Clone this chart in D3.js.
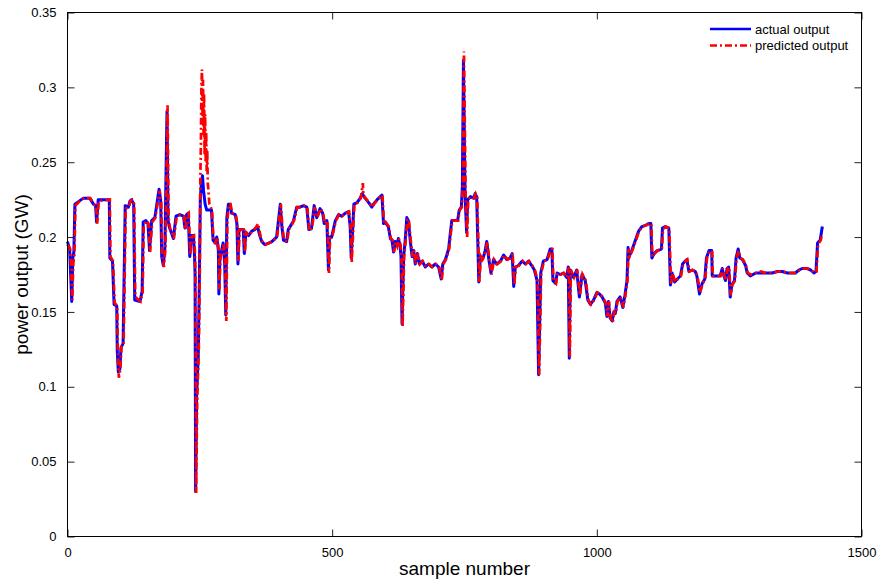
<!DOCTYPE html>
<html>
<head>
<meta charset="utf-8">
<script src="https://cdn.jsdelivr.net/npm/d3@7/dist/d3.min.js"></script>
<style>
  html, body { margin: 0; padding: 0; background: #fff; }
  svg { display: block; font-family: "Liberation Sans", Arial, Helvetica, sans-serif; }
</style>
</head>
<body>
<svg id="chart" width="878" height="582"></svg>
<script>
// Power output per sample: [sample number, GW]
const actualOutput = [
  [0,0.197],[4,0.192],[6,0.175],[8,0.157],[10,0.186],[12,0.190],[14,0.222],[22,0.224],[30,0.226],[42,0.226],[49,0.222],[53,0.221],[55,0.210],[58,0.225],[79,0.225],[80,0.186],[85,0.184],[88,0.155],[93,0.154],[94,0.124],[96,0.110],[99,0.112],[101,0.126],[105,0.129],[109,0.221],[115,0.220],[118,0.224],[121,0.225],[125,0.222],[127,0.158],[137,0.157],[141,0.164],[143,0.210],[148,0.211],[152,0.209],[155,0.191],[159,0.211],[165,0.213],[170,0.225],[173,0.232],[176,0.225],[178,0.187],[181,0.181],[184,0.193],[186,0.240],[188,0.284],[190,0.211],[193,0.206],[197,0.202],[200,0.199],[205,0.214],[212,0.215],[219,0.214],[222,0.206],[225,0.215],[228,0.216],[231,0.187],[234,0.201],[238,0.201],[240,0.187],[241,0.175],[242,0.030],[244,0.095],[247,0.120],[249,0.169],[251,0.227],[253,0.236],[255,0.241],[257,0.231],[260,0.222],[263,0.218],[272,0.218],[275,0.198],[279,0.196],[282,0.200],[285,0.191],[286,0.162],[288,0.187],[291,0.191],[294,0.196],[297,0.182],[299,0.148],[301,0.213],[304,0.222],[307,0.222],[310,0.216],[317,0.215],[320,0.209],[322,0.182],[324,0.205],[332,0.205],[334,0.189],[337,0.203],[342,0.201],[348,0.204],[354,0.205],[359,0.207],[364,0.200],[367,0.197],[373,0.195],[380,0.196],[386,0.197],[395,0.200],[402,0.222],[405,0.207],[408,0.198],[414,0.197],[417,0.205],[424,0.209],[427,0.211],[433,0.220],[439,0.220],[446,0.221],[452,0.220],[456,0.205],[461,0.206],[466,0.221],[471,0.213],[477,0.219],[482,0.216],[485,0.209],[490,0.211],[493,0.178],[495,0.200],[499,0.200],[506,0.211],[512,0.215],[518,0.214],[525,0.216],[531,0.217],[534,0.207],[536,0.186],[539,0.207],[541,0.222],[547,0.223],[553,0.226],[557,0.229],[562,0.226],[569,0.223],[575,0.220],[578,0.222],[585,0.225],[594,0.228],[597,0.209],[600,0.210],[606,0.207],[610,0.199],[613,0.198],[616,0.190],[619,0.197],[622,0.194],[625,0.199],[628,0.195],[630,0.187],[632,0.142],[635,0.187],[638,0.198],[641,0.213],[644,0.211],[648,0.196],[651,0.187],[654,0.191],[657,0.182],[661,0.189],[665,0.182],[670,0.184],[676,0.180],[682,0.182],[688,0.180],[695,0.182],[701,0.180],[706,0.172],[709,0.182],[714,0.185],[720,0.192],[723,0.202],[726,0.211],[737,0.211],[740,0.218],[744,0.220],[746,0.234],[748,0.318],[751,0.229],[754,0.203],[756,0.225],[761,0.227],[767,0.226],[770,0.229],[773,0.227],[777,0.170],[780,0.187],[783,0.185],[786,0.187],[789,0.191],[792,0.197],[796,0.185],[800,0.176],[805,0.185],[811,0.182],[818,0.184],[824,0.188],[830,0.185],[836,0.186],[840,0.189],[843,0.167],[846,0.180],[852,0.181],[859,0.184],[865,0.182],[871,0.184],[877,0.181],[882,0.178],[887,0.171],[890,0.108],[894,0.176],[899,0.184],[906,0.185],[912,0.192],[915,0.192],[917,0.171],[922,0.169],[925,0.176],[931,0.175],[937,0.176],[943,0.173],[946,0.180],[948,0.119],[950,0.178],[956,0.173],[962,0.178],[967,0.160],[972,0.175],[978,0.171],[983,0.158],[988,0.155],[994,0.158],[1000,0.163],[1005,0.162],[1010,0.160],[1016,0.156],[1019,0.147],[1022,0.157],[1025,0.146],[1029,0.144],[1032,0.150],[1035,0.149],[1038,0.157],[1044,0.160],[1049,0.153],[1053,0.161],[1057,0.171],[1059,0.193],[1061,0.187],[1066,0.191],[1073,0.198],[1079,0.204],[1085,0.207],[1093,0.208],[1098,0.209],[1102,0.209],[1104,0.186],[1108,0.189],[1114,0.191],[1122,0.192],[1124,0.206],[1129,0.207],[1136,0.206],[1139,0.168],[1142,0.176],[1147,0.170],[1152,0.172],[1158,0.174],[1162,0.182],[1167,0.184],[1170,0.185],[1174,0.177],[1180,0.178],[1186,0.177],[1189,0.174],[1194,0.162],[1199,0.169],[1204,0.172],[1207,0.186],[1212,0.191],[1217,0.191],[1218,0.174],[1227,0.174],[1233,0.174],[1237,0.179],[1240,0.174],[1243,0.171],[1246,0.179],[1249,0.180],[1252,0.160],[1255,0.168],[1260,0.171],[1263,0.186],[1267,0.192],[1270,0.186],[1275,0.185],[1281,0.181],[1284,0.176],[1290,0.174],[1300,0.176],[1309,0.176],[1318,0.176],[1331,0.176],[1341,0.177],[1350,0.177],[1360,0.176],[1375,0.176],[1382,0.178],[1388,0.179],[1397,0.179],[1404,0.178],[1410,0.176],[1414,0.177],[1417,0.196],[1422,0.198],[1426,0.207]
];

const predictedOutput = [
  [0,0.195],[5,0.192],[7,0.178],[9,0.158],[11,0.183],[13,0.188],[15,0.221],[23,0.224],[31,0.226],[43,0.226],[50,0.222],[54,0.221],[56,0.209],[59,0.224],[80,0.225],[81,0.187],[86,0.184],[89,0.156],[94,0.154],[95,0.126],[97,0.106],[100,0.112],[102,0.127],[106,0.128],[110,0.219],[116,0.220],[119,0.224],[122,0.225],[126,0.222],[128,0.160],[138,0.157],[142,0.163],[144,0.208],[149,0.211],[153,0.209],[156,0.190],[160,0.210],[166,0.213],[171,0.224],[174,0.231],[177,0.224],[179,0.188],[182,0.180],[185,0.192],[187,0.235],[189,0.288],[191,0.213],[194,0.205],[198,0.202],[201,0.199],[206,0.213],[213,0.215],[220,0.214],[223,0.205],[226,0.215],[229,0.216],[232,0.188],[235,0.200],[239,0.201],[241,0.188],[242,0.170],[243,0.029],[245,0.090],[248,0.125],[250,0.175],[251,0.240],[252,0.262],[253,0.300],[254,0.312],[255,0.280],[256,0.305],[257,0.268],[258,0.296],[259,0.255],[260,0.282],[261,0.250],[262,0.270],[263,0.244],[264,0.258],[265,0.236],[266,0.232],[268,0.222],[273,0.218],[276,0.197],[280,0.196],[283,0.200],[286,0.190],[287,0.165],[289,0.186],[292,0.191],[295,0.195],[298,0.181],[300,0.144],[302,0.211],[305,0.222],[308,0.222],[311,0.216],[318,0.215],[321,0.208],[323,0.184],[325,0.205],[333,0.205],[335,0.190],[338,0.203],[343,0.201],[349,0.204],[355,0.206],[360,0.209],[365,0.200],[368,0.197],[374,0.195],[381,0.196],[387,0.197],[396,0.200],[403,0.222],[406,0.207],[409,0.198],[415,0.197],[418,0.205],[425,0.209],[428,0.211],[434,0.220],[440,0.220],[447,0.221],[453,0.220],[457,0.204],[462,0.206],[467,0.220],[472,0.213],[478,0.219],[483,0.216],[486,0.209],[491,0.211],[494,0.176],[496,0.199],[500,0.200],[507,0.211],[513,0.215],[519,0.214],[526,0.216],[532,0.217],[535,0.207],[537,0.183],[540,0.207],[542,0.222],[548,0.223],[554,0.226],[558,0.236],[559,0.228],[563,0.226],[570,0.223],[576,0.220],[579,0.222],[586,0.225],[595,0.228],[598,0.209],[601,0.210],[607,0.207],[611,0.199],[614,0.198],[617,0.190],[620,0.197],[623,0.194],[626,0.199],[629,0.195],[631,0.187],[633,0.140],[636,0.187],[639,0.198],[642,0.212],[645,0.211],[649,0.196],[652,0.187],[655,0.191],[658,0.182],[662,0.189],[666,0.182],[671,0.184],[677,0.180],[683,0.182],[689,0.180],[696,0.182],[702,0.180],[707,0.171],[710,0.182],[715,0.185],[721,0.192],[724,0.202],[727,0.211],[738,0.211],[741,0.218],[745,0.220],[747,0.236],[749,0.324],[752,0.230],[755,0.200],[757,0.225],[762,0.227],[768,0.226],[771,0.229],[774,0.227],[778,0.170],[781,0.187],[784,0.185],[787,0.187],[790,0.191],[793,0.197],[797,0.185],[801,0.175],[806,0.185],[812,0.182],[819,0.184],[825,0.188],[831,0.185],[837,0.186],[841,0.189],[844,0.168],[847,0.180],[853,0.181],[860,0.184],[866,0.182],[872,0.184],[878,0.181],[883,0.178],[888,0.171],[891,0.108],[895,0.176],[900,0.184],[907,0.185],[913,0.192],[916,0.192],[918,0.171],[923,0.169],[926,0.176],[932,0.175],[938,0.176],[944,0.173],[947,0.180],[949,0.120],[951,0.178],[957,0.173],[963,0.178],[968,0.161],[973,0.175],[979,0.171],[984,0.158],[989,0.155],[995,0.158],[1001,0.163],[1006,0.162],[1011,0.160],[1017,0.156],[1020,0.147],[1023,0.157],[1026,0.146],[1030,0.143],[1033,0.150],[1036,0.149],[1039,0.157],[1045,0.160],[1050,0.153],[1054,0.161],[1058,0.171],[1060,0.192],[1062,0.187],[1067,0.191],[1074,0.198],[1080,0.204],[1086,0.207],[1094,0.208],[1099,0.209],[1103,0.209],[1105,0.187],[1109,0.189],[1115,0.191],[1123,0.192],[1125,0.205],[1130,0.207],[1137,0.206],[1140,0.169],[1143,0.176],[1148,0.170],[1153,0.172],[1159,0.174],[1163,0.182],[1168,0.184],[1171,0.185],[1175,0.177],[1181,0.178],[1187,0.177],[1190,0.174],[1195,0.163],[1200,0.169],[1205,0.172],[1208,0.186],[1213,0.191],[1218,0.190],[1219,0.174],[1228,0.174],[1234,0.174],[1238,0.179],[1241,0.174],[1244,0.171],[1247,0.179],[1250,0.180],[1253,0.161],[1256,0.168],[1261,0.171],[1264,0.186],[1268,0.191],[1271,0.186],[1276,0.185],[1282,0.181],[1285,0.176],[1291,0.175],[1301,0.176],[1310,0.177],[1319,0.176],[1332,0.176],[1342,0.177],[1351,0.177],[1361,0.176],[1376,0.176],[1383,0.178],[1389,0.179],[1398,0.179],[1405,0.178],[1411,0.176],[1415,0.177],[1418,0.195],[1423,0.198],[1425,0.201]
];

const xTicks = [0, 500, 1000, 1500];
const xTickLabels = ["0", "500", "1000", "1500"];
const yTicks = [0, 0.05, 0.1, 0.15, 0.2, 0.25, 0.3, 0.35];
const yTickLabels = ["0", "0.05", "0.1", "0.15", "0.2", "0.25", "0.3", "0.35"];
const seriesNames = ["actual output", "predicted output"];

const svg = d3.select("#chart");
const plotLeft = 67.5, plotRight = 861.5, plotTop = 12.5, plotBottom = 536.5;

const x = d3.scaleLinear().domain([0, 1500]).range([plotLeft, plotRight]);
const y = d3.scaleLinear().domain([0, 0.35]).range([plotBottom, plotTop]);

const line = d3.line().x(d => x(d[0])).y(d => y(d[1]));

// data lines: actual underneath, predicted dash-dot on top
svg.append("path")
  .datum(actualOutput)
  .attr("d", line)
  .attr("fill", "none")
  .attr("stroke", "#0000ff")
  .attr("stroke-width", 3)
  .attr("stroke-linejoin", "round");

svg.append("path")
  .datum(predictedOutput)
  .attr("d", line)
  .attr("fill", "none")
  .attr("stroke", "#ff0000")
  .attr("stroke-width", 2.7)
  .attr("stroke-dasharray", "7,3,2,3");

// axes with inward ticks on all four sides
const tick = 7;
const fmtX = (d, i) => xTickLabels[i];
const fmtY = (d, i) => yTickLabels[i];

const gx = svg.append("g").attr("transform", `translate(0,${plotBottom})`)
  .call(d3.axisBottom(x).tickValues(xTicks).tickFormat(fmtX).tickSizeInner(-tick).tickSizeOuter(0).tickPadding(11));
const gxTop = svg.append("g").attr("transform", `translate(0,${plotTop})`)
  .call(d3.axisTop(x).tickValues(xTicks).tickFormat("").tickSizeInner(-tick).tickSizeOuter(0));
const gy = svg.append("g").attr("transform", `translate(${plotLeft},0)`)
  .call(d3.axisLeft(y).tickValues(yTicks).tickFormat(fmtY).tickSizeInner(-tick).tickSizeOuter(0).tickPadding(11));
const gyRight = svg.append("g").attr("transform", `translate(${plotRight},0)`)
  .call(d3.axisRight(y).tickValues(yTicks).tickFormat("").tickSizeInner(-tick).tickSizeOuter(0));

[gx, gxTop, gy, gyRight].forEach(g => {
  g.select(".domain").remove();
  g.selectAll(".tick line").attr("stroke", "#222").attr("stroke-width", 1);
  g.selectAll(".tick text")
    .attr("fill", "#000")
    .style("font-size", "13px")
    .style("font-family", "'Liberation Sans', Arial, Helvetica, sans-serif");
});

// plot frame
svg.append("rect")
  .attr("x", plotLeft).attr("y", plotTop)
  .attr("width", plotRight - plotLeft).attr("height", plotBottom - plotTop)
  .attr("fill", "none").attr("stroke", "#000").attr("stroke-width", 1);

// axis titles
svg.append("text")
  .attr("x", (plotLeft + plotRight) / 2).attr("y", 575)
  .attr("text-anchor", "middle")
  .style("font-size", "19px")
  .text("sample number");

svg.append("text")
  .attr("transform", `translate(28,${(plotTop + plotBottom) / 2}) rotate(-90)`)
  .attr("text-anchor", "middle")
  .style("font-size", "19px")
  .text("power output (GW)");

// legend
const legend = svg.append("g");
const legendStyles = [
  { color: "#0000ff", dash: null },
  { color: "#ff0000", dash: "7,3,2,3" }
];
seriesNames.forEach((name, i) => {
  const ly = 29 + i * 16.5;
  legend.append("line")
    .attr("x1", 710).attr("x2", 751).attr("y1", ly).attr("y2", ly)
    .attr("stroke", legendStyles[i].color)
    .attr("stroke-width", 2.4)
    .attr("stroke-dasharray", legendStyles[i].dash);
  legend.append("text")
    .attr("x", 755).attr("y", ly)
    .attr("dy", "0.35em")
    .style("font-size", "13px")
    .text(name);
});
</script>
</body>
</html>
